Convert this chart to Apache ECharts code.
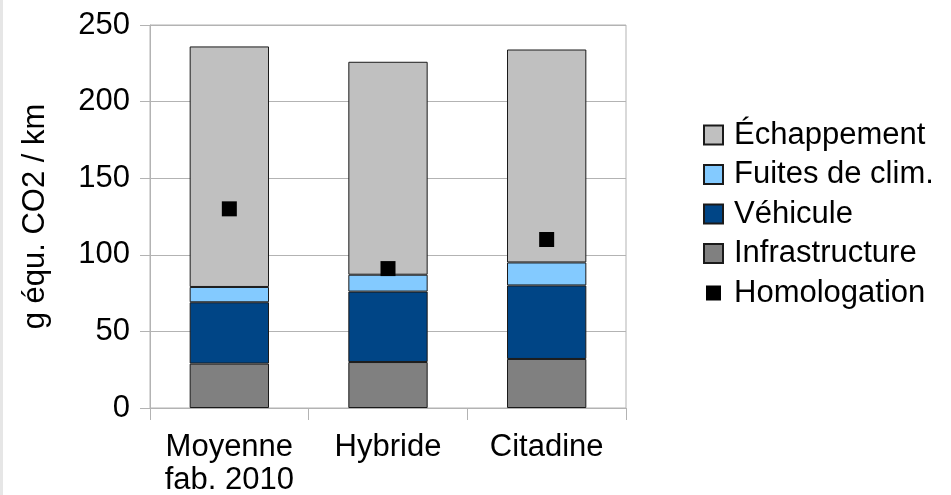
<!DOCTYPE html>
<html>
<head>
<meta charset="utf-8">
<script src="https://cdn.jsdelivr.net/npm/echarts@6/dist/echarts.min.js"></script>
<style>html,body{margin:0;padding:0;background:#fff;}#c{width:951px;height:495px;}</style>
</head>
<body>
<div id="c"></div>
<script>
const categories = ['Moyenne\nfab. 2010', 'Hybride', 'Citadine'];
const infrastructure = [29, 30, 32];
const vehicule = [40, 46, 48];
const fuites = [10, 11, 15];
const echappement = [157, 139, 139];
const homologation = [130, 91, 110];
const yTicks = [0, 50, 100, 150, 200, 250];

const FONT = 'Liberation Sans';
const FS = 31;
const chart = echarts.init(document.getElementById('c'));
const barBase = { type: 'bar', stack: 'total', barWidth: '50%', itemStyle: { borderColor: '#1a1a1a', borderWidth: 1 } };
chart.setOption({
  animation: false,
  textStyle: { fontFamily: FONT },
  graphic: [{ type: 'rect', left: 0, top: 0, shape: { width: 3, height: 495 }, style: { fill: '#e6e6e6' } }],
  grid: { left: 150, right: 325, top: 25, bottom: 87, show: true, borderColor: '#b3b3b3', borderWidth: 1, outerBoundsMode: 'none', containLabel: false },
  legend: {
    orient: 'vertical', left: 703, top: 119, padding: 0, itemWidth: 19, itemHeight: 19, itemGap: 7.5,
    textStyle: { fontFamily: FONT, fontSize: FS, color: '#000', lineHeight: 32, padding: [0, 0, 0, 6] },
    data: [
      { name: 'Échappement', icon: 'rect' }, { name: 'Fuites de clim.', icon: 'rect' },
      { name: 'Véhicule', icon: 'rect' }, { name: 'Infrastructure', icon: 'rect' },
      { name: 'Homologation', icon: 'path://M0,0L0.01,0M19,19L19.01,19M2,2L17,2L17,17L2,17Z' }
    ]
  },
  xAxis: {
    type: 'category', data: categories,
    axisLine: { lineStyle: { color: '#b3b3b3' } },
    axisTick: { show: true, length: 12, lineStyle: { color: '#b3b3b3' } },
    axisLabel: { fontFamily: FONT, fontSize: FS, color: '#000', lineHeight: 33, margin: 23, interval: 0, hideOverlap: false }
  },
  yAxis: {
    type: 'value', min: 0, max: 250, interval: 50,
    name: 'g équ. CO2 / km', nameLocation: 'middle', nameRotate: 90, nameGap: 99,
    nameTextStyle: { fontFamily: FONT, fontSize: FS, color: '#000' },
    axisLine: { show: true, lineStyle: { color: '#b3b3b3' } },
    axisTick: { show: true, length: 10, lineStyle: { color: '#b3b3b3' } },
    axisLabel: { fontFamily: FONT, fontSize: FS, color: '#000', margin: 20,
      formatter: v => yTicks.includes(v) ? String(v) : '' },
    splitLine: { lineStyle: { color: '#b3b3b3' } }
  },
  series: [
    Object.assign({}, barBase, { name: 'Infrastructure', data: infrastructure, itemStyle: Object.assign({}, barBase.itemStyle, { color: '#808080' }) }),
    Object.assign({}, barBase, { name: 'Véhicule', data: vehicule, itemStyle: Object.assign({}, barBase.itemStyle, { color: '#004586' }) }),
    Object.assign({}, barBase, { name: 'Fuites de clim.', data: fuites, itemStyle: Object.assign({}, barBase.itemStyle, { color: '#83caff' }) }),
    Object.assign({}, barBase, { name: 'Échappement', data: echappement, itemStyle: Object.assign({}, barBase.itemStyle, { color: '#c0c0c0' }) }),
    { type: 'scatter', name: 'Homologation', data: homologation, symbol: 'rect', symbolSize: 15, itemStyle: { color: '#000', opacity: 1 }, z: 5 }
  ]
});
</script>
</body>
</html>
